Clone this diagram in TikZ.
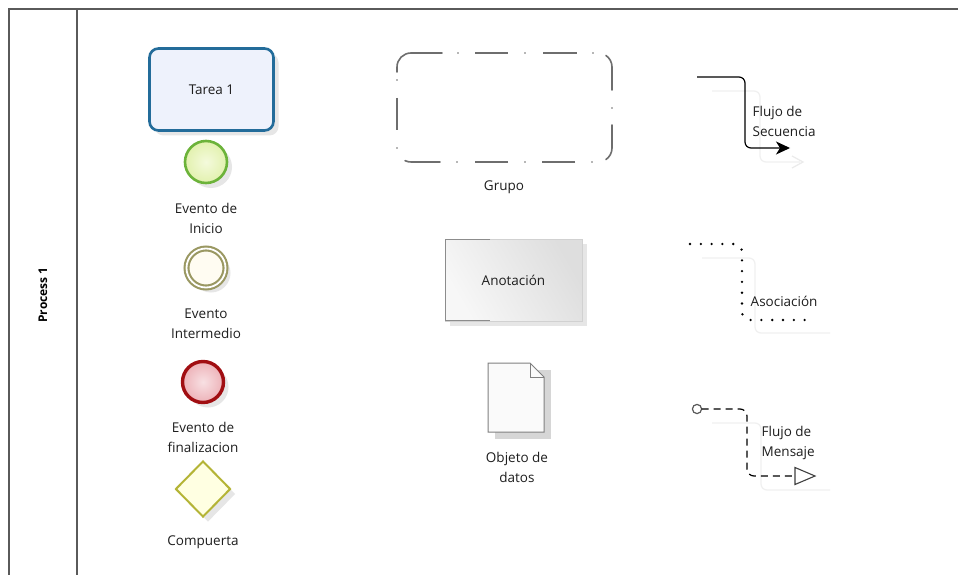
\documentclass[tikz,border=0pt]{standalone}
\usepackage{fontspec}
\setmainfont{Open Sans}
\usetikzlibrary{shapes.geometric,shadows,arrows.meta}
\definecolor{poolline}{HTML}{5A5A5A}
\definecolor{taskborder}{HTML}{236C9A}
\definecolor{taskfill}{HTML}{EEF2FC}
\definecolor{startborder}{HTML}{6CB33A}
\definecolor{startfill}{HTML}{F4FADC}
\definecolor{startfill2}{HTML}{E2F1AE}
\definecolor{interborder}{HTML}{9A9862}
\definecolor{interfill}{HTML}{FFFCF2}
\definecolor{endborder}{HTML}{A10E12}
\definecolor{endfill}{HTML}{F8E0E3}
\definecolor{endfill2}{HTML}{EDB2B8}
\definecolor{gateborder}{HTML}{B4B436}
\definecolor{gatefill}{HTML}{FFFFE2}
\definecolor{groupline}{HTML}{6E6E6E}
\definecolor{txt}{HTML}{1E1E1E}
\tikzset{
  lbl/.style={text=txt, font=\fontsize{13.5}{20}\selectfont, align=center, inner sep=0pt},
  lblleft/.style={lbl, anchor=west, align=left},
  softshadow/.style={drop shadow={shadow xshift=5pt, shadow yshift=-5pt, opacity=0.16, fill=black!60}},
  taskbox/.style={draw=taskborder, line width=2.6pt, rounded corners=9pt, fill=taskfill,
    minimum width=124pt, minimum height=82pt, softshadow, lbl},
  startev/.style={circle, draw=startborder, line width=2.6pt, inner color=startfill, outer color=startfill2, minimum size=42pt, softshadow},
  interev/.style={circle, draw=interborder, line width=2.1pt, double=white, double distance=1.8pt, fill=interfill, minimum size=39pt, softshadow},
  endev/.style={circle, draw=endborder, line width=3.4pt, inner color=endfill, outer color=endfill2, minimum size=41pt, softshadow},
  gateway/.style={diamond, aspect=1, draw=gateborder, line width=2pt, fill=gatefill, minimum width=55pt, minimum height=56pt, inner sep=0pt, softshadow},
  groupbox/.style={minimum width=215pt, minimum height=109pt},
  groupline/.style={draw=groupline, line width=1.6pt},
  groupdot/.style={fill=groupline},
  annobox/.style={draw=black!18, line width=0.8pt, left color=black!3, right color=black!13, shading angle=120, minimum width=137pt, minimum height=82pt, softshadow, lbl},
  faint/.style={draw=black!6, line width=1.2pt},
}
\begin{document}
\begin{tikzpicture}[x=1pt,y=-1pt]
\useasboundingbox (0,0) rectangle (958,575);
\fill[white] (0,0) rectangle (958,575);

% pool
\coordinate (poolTL) at (9,9);
\coordinate (poolTR) at (958,9);
\coordinate (poolBL) at (9,575);
\coordinate (divT) at (77,9);
\coordinate (divB) at (77,575);
\draw[poolline, line width=1.5pt] (poolBL) -- (poolTL) -- (poolTR);
\draw[poolline, line width=1.2pt] (divT) -- (divB);
\node[rotate=90, font=\bfseries\fontsize{12}{14}\selectfont, text=black] (proc) at (43,295) {Process 1};

% left column
\node[taskbox] (task) at (211.5,89.5) {Tarea 1};
\node[startev] (start) at (206,162) {};
\node[lbl] (startlbl) at (206,218) {Evento de\\Inicio};
\node[interev] (inter) at (206,268) {};
\node[lbl] (interlbl) at (206,324) {Evento\\Intermedio};
\node[endev] (endev) at (203,382) {};
\node[lbl] (endlbl) at (203,437) {Evento de\\finalizacion};
\node[gateway] (gate) at (203,489) {};
\node[lbl] (gatelbl) at (203,542) {Compuerta};

% group (dash-dot rounded border drawn piece by piece)
\node[groupbox] (grp) at (504.5,107.5) {};
\draw[groupline, line cap=round] (397,72) -- (397,67) arc[start angle=180, end angle=90, radius=14pt] -- (442,53);
\draw[groupline] (475,53) -- (508,53) (543,53) -- (577,53);
\draw[groupline, line cap=round] (612,90) -- (612,67) arc[start angle=0, end angle=55, radius=14pt];
\draw[groupline, line cap=round] (612,125) -- (612,148) arc[start angle=0, end angle=-55, radius=14pt];
\draw[groupline] (575,162) -- (542,162) (508,162) -- (475,162);
\draw[groupline, line cap=round] (440,162) -- (411,162) arc[start angle=270, end angle=245, radius=14pt];
\draw[groupline] (397,98) -- (397,130);
\foreach \p in {(458,53),(525,53),(593,53),(612,108),(592,162),(525,162),(457,162),(397,148),(397,80)}
  \fill[groupdot] \p circle (0.9pt);
\node[lbl] (grplbl) at (504,187) {Grupo};

% annotation
\node[annobox] (anno) at (513.5,280) {Anotación};
\draw[black!45, line width=1pt] (490,239.4) -- (445.4,239.4) -- (445.4,320.6) -- (490,320.6);

% data object
\fill[black!16] (495,370) rectangle (551,439);
\draw[black!50, line width=1pt, fill=black!2] (488,363) -- (530,363) -- (544,377) -- (544,432) -- (488,432) -- cycle;
\draw[black!50, line width=1pt] (530,363) -- (530,377) -- (544,377);
\node[lbl] (dobjlbl) at (517,467.5) {Objeto de\\datos};

% sequence flow
\draw[faint, rounded corners=6pt] (712,91) -- (760,91) -- (760,162) -- (800,162);
\draw[black!8, line width=1.2pt] (792,156) -- (803,162) -- (792,168);
\coordinate (sfA) at (697,77);
\coordinate (sfB) at (790,148);
\draw[black, line width=1.2pt, rounded corners=6pt, -{Stealth[length=14pt, width=13pt, inset=4pt]}] (sfA) -- (745,77) -- (745,148) -- (sfB);
\node[lblleft] (sflbl) at (752.5,121.5) {Flujo de\\Secuencia};

% association
\draw[faint, rounded corners=6pt] (702,258) -- (755,258) -- (755,333) -- (830,333);
\coordinate (asA) at (690,244);
\coordinate (asB) at (810,320);
\draw[black, line width=2.6pt, line cap=round, dash pattern=on 0pt off 10.8pt, rounded corners=8pt] (asA) -- (742,244) -- (742,320) -- (asB);
\node[lblleft] (aslbl) at (750.5,301) {Asociación};

% message flow
\draw[faint, rounded corners=6pt] (712,423) -- (761,423) -- (761,490) -- (830,490);
\coordinate (mfA) at (697,409);
\coordinate (mfB) at (815,476);
\draw[black!65, line width=1.2pt] (mfA) circle (4.6pt);
\draw[black, line width=1.2pt, dash pattern=on 7pt off 5pt, rounded corners=7pt] (701.6,409) -- (747,409) -- (747,476) -- (795,476);
\draw[black!75, line width=1.1pt, fill=white] (795,467.5) -- (mfB) -- (795,484.5) -- cycle;
\node[lblleft] (mflbl) at (761.5,443) {Flujo de\\Mensaje};
\end{tikzpicture}
\end{document}
